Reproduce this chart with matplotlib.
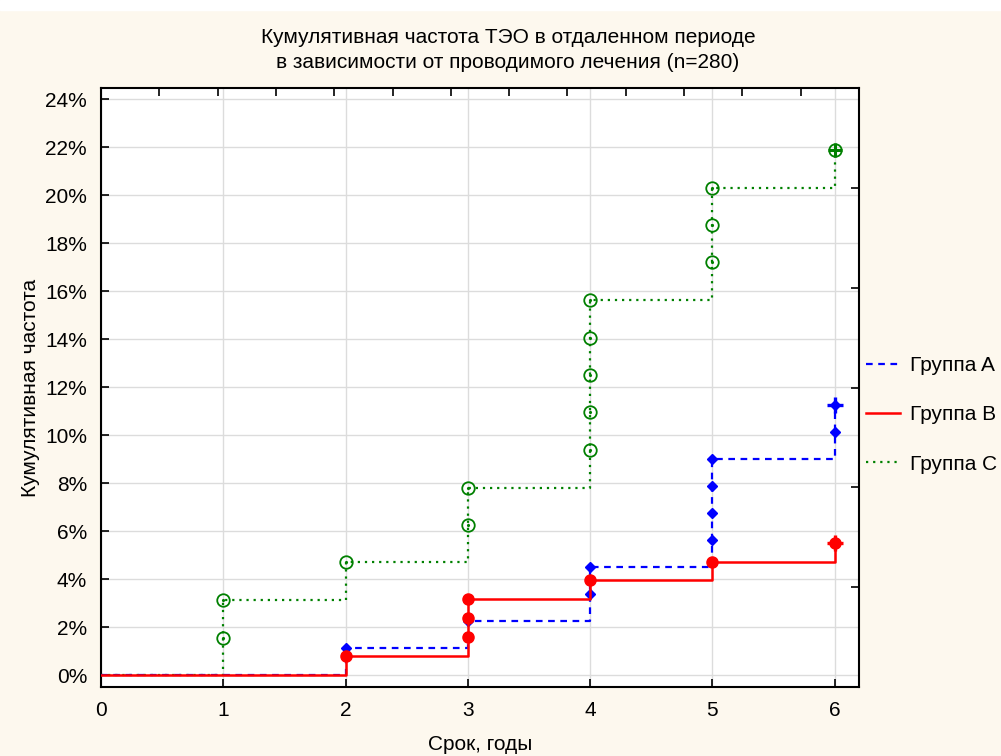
import numpy as np
import matplotlib
matplotlib.use("Agg")
import matplotlib.pyplot as plt
from matplotlib.lines import Line2D
from matplotlib.ticker import FuncFormatter

plt.rcParams['font.family'] = ['Liberation Sans', 'DejaVu Sans']

title = "Кумулятивная частота ТЭО в отдаленном периоде\nв зависимости от проводимого лечения (n=280)"
xlabel = "Срок, годы"
ylabel = "Кумулятивная частота"
labels = ["Группа A", "Группа B", "Группа C"]

x_ticks = [0, 1, 2, 3, 4, 5, 6]
y_ticks = [0, 2, 4, 6, 8, 10, 12, 14, 16, 18, 20, 22, 24]

groupA_t = [2, 3, 4, 4, 5, 5, 5, 5, 6, 6]
groupA_pct = [1.12, 2.25, 3.37, 4.49, 5.62, 6.74, 7.87, 8.99, 10.11, 11.24]
groupB_t = [2, 3, 3, 3, 4, 5, 6]
groupB_pct = [0.79, 1.57, 2.36, 3.15, 3.94, 4.72, 5.51]
groupC_t = [1, 1, 2, 3, 3, 4, 4, 4, 4, 4, 5, 5, 5, 6]
groupC_pct = [1.56, 3.13, 4.69, 6.25, 7.81, 9.38, 10.94, 12.50, 14.06, 15.63,
              17.19, 18.75, 20.31, 21.88]

cA, cB, cC = '#0000FF', '#FF0000', '#008000'
bg = '#FDF8EE'
fs = 15

fig = plt.figure(figsize=(10.01, 7.56), dpi=100, facecolor=bg)
fig.patches.append(plt.Rectangle((0, 1 - 10/756), 1, 10/756, transform=fig.transFigure,
                                 color='white', zorder=0))
ax = fig.add_axes([101/1001, 1 - 687/756, 758/1001, 599/756])
ax.set_facecolor('white')

dashA = (0, (3, 2.5))
dotC = (0, (1, 2.2))

# Group C
xc = [0] + groupC_t
yc = [0] + groupC_pct
ax.plot(xc, yc, drawstyle='steps-post', color=cC, ls=dotC, lw=1.6, zorder=3)
ax.plot(groupC_t, groupC_pct, ls='none', marker='o', ms=9, mfc='none', mec=cC, mew=1.3, zorder=4)
ax.plot(groupC_t, groupC_pct, ls='none', marker='.', ms=2.5, color=cC, zorder=4)
ax.plot(groupC_t[-1:], groupC_pct[-1:], ls='none', marker='+', ms=10, mew=2.2, color=cC, zorder=5)

# Group A
xa = [0] + groupA_t
ya = [0] + groupA_pct
ax.plot(xa, ya, drawstyle='steps-post', color=cA, ls=dashA, lw=1.6, zorder=5)
ax.plot(groupA_t, groupA_pct, ls='none', marker='D', ms=5, color=cA, zorder=6)
ax.plot(groupA_t[-1:], groupA_pct[-1:], ls='none', marker='+', ms=11, mew=2.4, color=cA, zorder=6)

# Group B
xb = [0] + groupB_t
yb = [0] + groupB_pct
ax.plot(xb, yb, drawstyle='steps-post', color=cB, ls='-', lw=1.8, zorder=7)
ax.plot(groupB_t, groupB_pct, ls='none', marker='o', ms=8, color=cB, zorder=8)
ax.plot(groupB_t[-1:], groupB_pct[-1:], ls='none', marker='+', ms=11, mew=2.4, color=cB, zorder=8)

ax.set_xlim(0, 6.2)
ax.set_ylim(-0.5, 24.46)
ax.set_xticks(x_ticks)
ax.set_yticks(y_ticks)
ax.yaxis.set_major_formatter(FuncFormatter(lambda v, p: f"{v:.0f}%"))
ax.grid(True, color='#DCDCDC', lw=1.0)
ax.set_axisbelow(True)
ax.tick_params(direction='in', length=6, width=1.2, labelsize=fs, pad=10)
for s in ax.spines.values():
    s.set_linewidth(1.5)
ax.set_xlabel(xlabel, fontsize=fs, labelpad=11)
ax.set_ylabel(ylabel, fontsize=fs, labelpad=4)
fig.text(508/1001, 1 - 50/756, title, fontsize=fs, ha='center', va='center',
         linespacing=1.4)

# secondary tick marks on top and right
ax2 = fig.add_axes(ax.get_position(), frameon=False, zorder=10)
ax2.patch.set_visible(False)
ax2.set_xlim(0, 1)
ax2.set_ylim(0, 1)
ax2.set_xticks(np.arange(14) / 13)
ax2.set_yticks(np.arange(7) / 6)
ax2.xaxis.tick_top()
ax2.yaxis.tick_right()
ax2.tick_params(direction='in', length=6, width=1.2, labeltop=False, labelright=False)

handles = [Line2D([], [], color=cA, ls=dashA, lw=1.6),
           Line2D([], [], color=cB, ls='-', lw=1.8),
           Line2D([], [], color=cC, ls=dotC, lw=1.6)]
fig.legend(handles, labels, loc='center left', bbox_to_anchor=(866/1001, 1 - 415/756),
           frameon=False, fontsize=fs, handlelength=1.65, handletextpad=0.45,
           labelspacing=1.45, borderaxespad=0, borderpad=0)

fig.savefig('out.png', dpi=100, facecolor=bg)
